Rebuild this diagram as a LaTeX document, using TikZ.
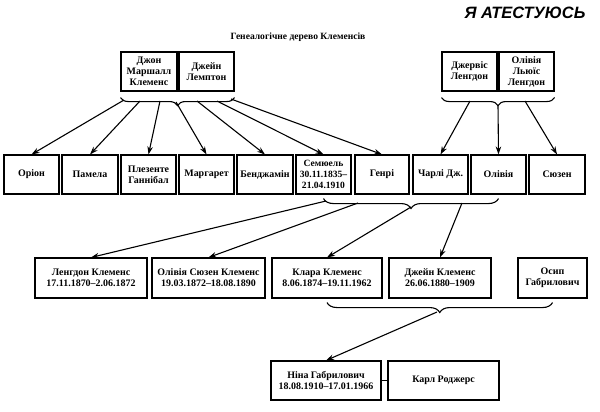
\documentclass[tikz,border=0pt]{standalone}
\usepackage{fontspec}
\setmainfont{Liberation Serif}
\setsansfont{Liberation Sans}
\usetikzlibrary{decorations.pathreplacing,arrows.meta,calc}
\begin{document}
\begin{tikzpicture}[x=1bp,y=-1bp,
  box/.style={draw,line width=1.1bp,minimum height=39bp,inner sep=0.5bp,align=center,
    font=\bfseries\fontsize{10}{11}\selectfont},
  arr/.style={line width=1.1bp,-{Stealth[length=8bp,width=5.5bp]}},
  brc/.style={line width=1.1bp,decorate,decoration={brace,mirror,amplitude=#1}}]
\fill[white] (0,0) rectangle (600,411);
\useasboundingbox (0,0) rectangle (600,411);

\node[font=\sffamily\bfseries\itshape\fontsize{16.5}{19}\selectfont] (hdr) at (525,13) {Я АТЕСТУЮСЬ};
\node[font=\bfseries\fontsize{9.6}{11}\selectfont] (title) at (298,37) {Генеалогічне дерево Клеменсів};

% row 1
\node[box,minimum width=56bp] (john) at (149,71.5) {Джон\\Маршалл\\Клеменс};
\node[box,minimum width=55bp] (jane) at (206.5,71.5) {Джейн\\Лемптон};
\node[box,minimum width=55bp] (jervis) at (469.5,71.5) {Джервіс\\Ленгдон};
\node[box,minimum width=55bp] (olivial) at (526.5,71.5) {Олівія\\Льюїс\\Ленгдон};

% row 2
\node[box,minimum width=55bp] (orion) at (31.5,174.5) {Оріон};
\node[box,minimum width=56bp] (pamela) at (90,174.5) {Памела};
\node[box,minimum width=55bp] (plez) at (148.5,174.5) {Плезенте\\Ганнібал};
\node[box,minimum width=55bp] (marg) at (206.5,174.5) {Маргарет};
\node[box,minimum width=56bp] (benj) at (265,174.5) {Бенджамін};
\node[box,minimum width=55bp,text width=54bp,font=\bfseries\fontsize{9.6}{11}\selectfont] (sam) at (323.5,174.5) {Семюель\\30.11.1835–\\21.04.1910};
\node[box,minimum width=54bp] (henry) at (382,174.5) {Генрі};
\node[box,minimum width=55bp] (charlie) at (440.5,174.5) {Чарлі Дж.};
\node[box,minimum width=55bp] (olivia) at (498.5,174.5) {Олівія};
\node[box,minimum width=56bp] (susan) at (557,174.5) {Сюзен};

% row 3
\node[box,minimum width=112bp,minimum height=40bp] (langdon) at (91,278) {Ленгдон Клеменс\\17.11.1870–2.06.1872};
\node[box,minimum width=113bp,minimum height=40bp] (olivias) at (208.5,278) {Олівія Сюзен Клеменс\\19.03.1872–18.08.1890};
\node[box,minimum width=110bp,minimum height=40bp] (clara) at (327,278) {Клара Клеменс\\8.06.1874–19.11.1962};
\node[box,minimum width=102bp,minimum height=40bp] (janec) at (440,278) {Джейн Клеменс\\26.06.1880–1909};
\node[box,minimum width=69bp,minimum height=40bp] (osip) at (552.5,278) {Осип\\Габрилович};

% row 4
\node[box,minimum width=110bp] (nina) at (326,380.5) {Ніна Габрилович\\18.08.1910–17.01.1966};
\node[box,minimum width=111bp] (carl) at (443.5,380.5) {Карл Роджерс};
\draw[line width=1.1bp] (nina) -- (carl);

% braces
\draw[brc=8bp] ($(john.south west)+(0,6)$) -- ($(jane.south east)+(0,6)$);
\draw[brc=8bp] ($(jervis.south west)+(0,6)$) -- ($(olivial.south east)+(0,6)$);
\draw[brc=10bp] ($(sam.south)+(0,4)$) -- ($(olivia.south)+(0,4)$);
\draw[brc=10bp] ($(clara.south)+(0,4)$) -- ($(osip.south)+(0,4)$);

% arrow start points
\coordinate (a1) at (124,100);
\coordinate (a2) at (140,101);
\coordinate (a3) at (160,101);
\coordinate (a4) at (176,102);
\coordinate (a5) at (197,101);
\coordinate (a6) at (217,101);
\coordinate (a7) at (231,99);
\coordinate (b1) at (470,101);
\coordinate (b2) at (498,105);
\coordinate (b3) at (525,101);
\coordinate (c1) at (326,201);
\coordinate (c2) at (358,203);
\coordinate (c3) at (411,207);
\coordinate (c4) at (462,203);
\coordinate (d1) at (437,312);

\draw[arr] (a1) -- (orion.north);
\draw[arr] (a2) -- (pamela.north);
\draw[arr] (a3) -- (plez.north);
\draw[arr] (a4) -- (marg.north);
\draw[arr] (a5) -- (benj.north);
\draw[arr] (a6) -- (sam.north);
\draw[arr] (a7) -- (henry.north);
\draw[arr] (b1) -- (charlie.north);
\draw[arr] (b2) -- (olivia.north);
\draw[arr] (b3) -- (susan.north);
\draw[arr] (c1) -- (langdon.north);
\draw[arr] (c2) -- (olivias.north);
\draw[arr] (c3) -- (clara.north);
\draw[arr] (c4) -- (janec.north);
\draw[arr] (d1) -- (nina.north);
\end{tikzpicture}
\end{document}
